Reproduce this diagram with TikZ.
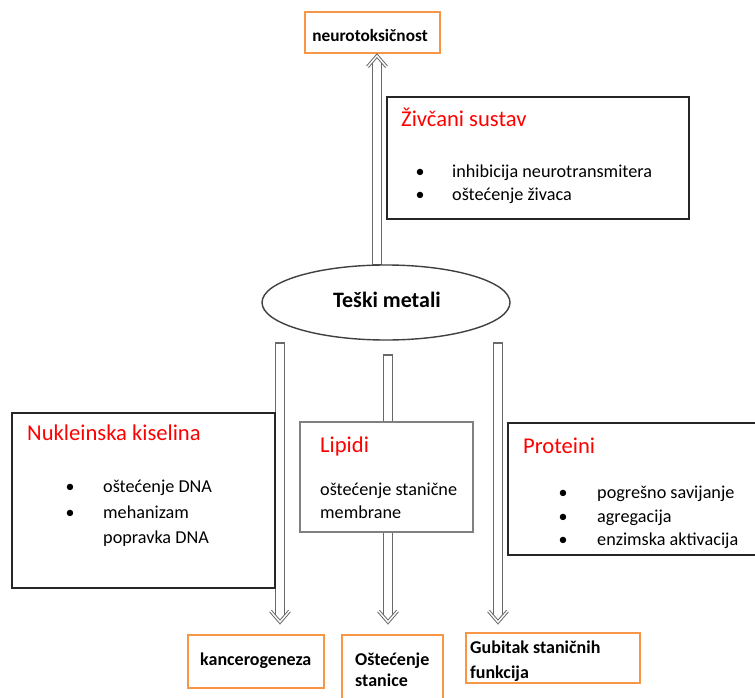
\documentclass[tikz,border=0pt]{standalone}
\usepackage{fontspec}
\setmainfont{Carlito}
\usetikzlibrary{shapes.geometric,calc}
\definecolor{boxorange}{RGB}{247,150,70}
\definecolor{arrowgray}{RGB}{105,105,105}
\tikzstyle{effect} = [draw=boxorange, line width=1.6pt, fill=white, inner sep=0pt]
\tikzstyle{group} = [draw=black!85, line width=1.4pt, fill=white, inner sep=0pt]
\tikzstyle{arrowline} = [draw=arrowgray, line width=1.1pt]
\tikzstyle{arrowhead} = [draw=arrowgray, line width=1pt, double=white, double distance=1.4pt, line join=miter]
\tikzstyle{heading} = [text=red, font=\fontsize{22.6}{26}\selectfont, anchor=base west, inner sep=0pt]
\tikzstyle{item} = [font=\fontsize{18.2}{22}\selectfont, anchor=base west, inner sep=0pt]
\tikzstyle{dot} = [font=\fontsize{18}{22}\selectfont, anchor=base, inner sep=0pt]
\tikzstyle{result} = [font=\bfseries\fontsize{18}{22}\selectfont, anchor=base west, inner sep=0pt]
% hollow block arrow: #1 foot, #2 tip, #3 head length (negative points up)
\def\hollowarrow#1#2#3{%
  \draw[arrowline] ($(#2)-(4.6,0)-0.45*(0,#3)$) -- ($(#1)-(4.6,0)$) -- ($(#1)+(4.6,0)$) -- ($(#2)+(4.6,0)-0.45*(0,#3)$);
  \draw[arrowhead] ($(#2)-(9.5,#3)$) -- (#2) -- ($(#2)+(9.5,0)-(0,#3)$);
}

\begin{document}
\begin{tikzpicture}[x=1pt,y=-1pt]
  \useasboundingbox (0,0) rectangle (755,698);
  \clip (0,0) rectangle (755,698);
  \def\endy{622}
  % connector ends
  \coordinate (upfoot) at (377,265);
  \coordinate (kfoot) at (280,343);
  \coordinate (ofoot) at (388,355);
  \coordinate (gfoot) at (498,343);
  \node[effect, minimum width=135pt, minimum height=41pt] (neuro) at (372.5,32.5) {};
  \node[font=\bfseries\fontsize{17.3}{20}\selectfont, anchor=base, inner sep=0pt] (neurotxt) at (370,42) {neurotoksičnost};
  \coordinate (uptip) at ([yshift=-2pt]neuro.south -| upfoot);
  \coordinate (ktip) at (280,\endy);
  \coordinate (otip) at (388,\endy);
  \coordinate (gtip) at (498,\endy);
  \hollowarrow{upfoot}{uptip}{-11}
  \hollowarrow{kfoot}{ktip}{11}
  \hollowarrow{ofoot}{otip}{11}
  \hollowarrow{gfoot}{gtip}{11}
  % Teski metali
  \node[ellipse, draw=black!75, line width=1.4pt, fill=white, minimum width=248pt, minimum height=75pt] (metal) at (386,302.5) {};
  \node[font=\bfseries\fontsize{22}{26}\selectfont, anchor=base, inner sep=0pt] (metaltxt) at (387,307) {Teški metali};
  % Zivcani sustav
  \node[group, minimum width=302pt, minimum height=122pt] (zivac) at (538,158) {};
  \node[heading] (zivacttl) at (401,127) {Živčani sustav};
  \node[dot] (zb1) at (420,177) {\textbullet};
  \node[item] (zi1) at (452,177) {inhibicija neurotransmitera};
  \node[dot] (zb2) at (420,200) {\textbullet};
  \node[item] (zi2) at (452,200) {oštećenje živaca};
  % Nukleinska kiselina
  \node[group, minimum width=263pt, minimum height=175pt] (nukl) at (143.5,500.5) {};
  \node[heading] (nuklttl) at (27,440) {Nukleinska kiselina};
  \node[dot] (nb1) at (70,492) {\textbullet};
  \node[item] (ni1) at (103,492) {oštećenje DNA};
  \node[dot] (nb2) at (70,518) {\textbullet};
  \node[item] (ni2) at (103,518) {mehanizam};
  \node[item] (ni3) at (103,543) {popravka DNA};
  % Lipidi
  \node[draw=black!50, line width=1.4pt, fill=white, minimum width=173pt, minimum height=110pt] (lipid) at (386.5,477) {};
  \node[heading] (lipidttl) at (320,452) {Lipidi};
  \node[item] (li1) at (320,495) {oštećenje stanične};
  \node[item] (li2) at (320,518) {membrane};
  % Proteini
  \node[group, minimum width=252pt, minimum height=132pt] (prot) at (634,489) {};
  \node[heading] (protttl) at (523,453) {Proteini};
  \node[dot] (pb1) at (563,498) {\textbullet};
  \node[item] (pi1) at (597,498) {pogrešno savijanje};
  \node[dot] (pb2) at (563,522) {\textbullet};
  \node[item] (pi2) at (597,522) {agregacija};
  \node[dot] (pb3) at (563,545) {\textbullet};
  \node[item] (pi3) at (597,545) {enzimska aktivacija};
  % results
  \node[effect, minimum width=136pt, minimum height=53pt] (kanc) at (256,661.5) {};
  \node[result] (kanctxt) at (200,665) {kancerogeneza};
  \node[effect, minimum width=101pt, minimum height=68pt] (ostec) at (392.5,669) {};
  \node[result] (ostec1) at (355,665) {Oštećenje};
  \node[result] (ostec2) at (355,686) {stanice};
  \node[effect, minimum width=174pt, minimum height=50pt] (gubit) at (553,658) {};
  \node[result] (gubit1) at (470,653) {Gubitak staničnih};
  \node[result] (gubit2) at (470,678) {funkcija};
\end{tikzpicture}
\end{document}
